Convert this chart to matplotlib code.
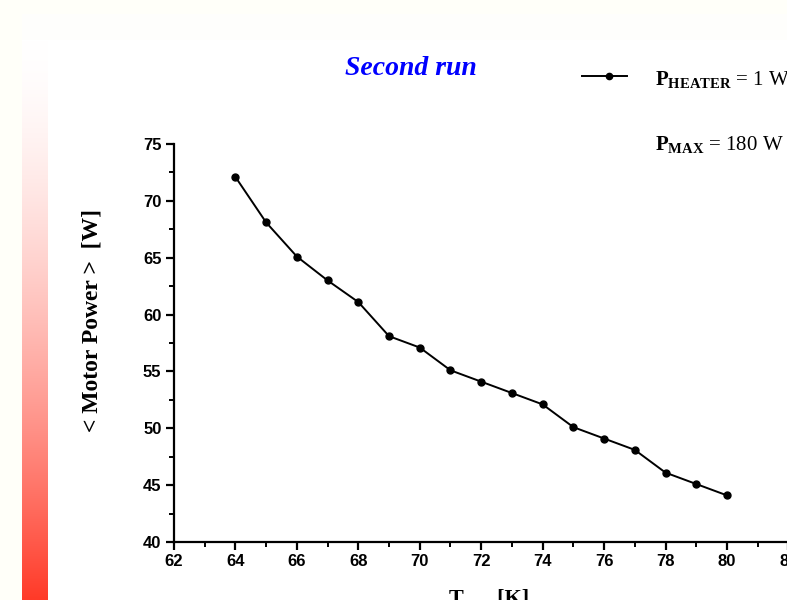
"""
Second run: mean motor power vs temperature (P_heater = 1 W, P_max = 180 W).
Writes out.png
"""

import matplotlib
matplotlib.use("Agg")
import matplotlib.pyplot as plt
from matplotlib.lines import Line2D
from matplotlib.patches import Rectangle
from matplotlib.ticker import MultipleLocator
import numpy as np

# ---------- data ----------
temp_K = [64, 65, 66, 67, 68, 69, 70, 71, 72, 73, 74, 75, 76, 77, 78, 79, 80]
motor_power_W = [72.1, 68.1, 65.1, 63.0, 61.1, 58.1, 57.1, 55.1, 54.1, 53.1,
                 52.1, 50.1, 49.1, 48.1, 46.1, 45.1, 44.1]

x_ticks = [62, 64, 66, 68, 70, 72, 74, 76, 78, 80, 82]
y_ticks = [40, 45, 50, 55, 60, 65, 70, 75]

# ---------- fonts ----------
plt.rcParams["font.family"] = "Liberation Serif"
plt.rcParams["mathtext.fontset"] = "custom"
plt.rcParams["mathtext.rm"] = "Liberation Serif"
plt.rcParams["mathtext.bf"] = "Liberation Serif:bold"
plt.rcParams["mathtext.it"] = "Liberation Serif:italic"

W, H = 787, 600
fig = plt.figure(figsize=(W / 100, H / 100), dpi=100, facecolor="#FFFFF9")

def fx(px):  # figure-fraction helpers from pixel positions
    return px / W

def fy(py):
    return 1 - py / H

# slide background panel
fig.add_artist(Rectangle((fx(22), 0), 1, fy(14), transform=fig.transFigure,
                         facecolor="#FEFEFC", edgecolor="none", zorder=0))
fig.add_artist(Rectangle((fx(48), 0), 1, fy(40), transform=fig.transFigure,
                         facecolor="white", edgecolor="none", zorder=0))

# red gradient bar on the left
bar = fig.add_axes([fx(22), 0, fx(48) - fx(22), fy(40)])
t = np.linspace(0, 1, 300) ** 1.6
grad = np.zeros((300, 1, 3))
grad[:, 0, 0] = 1.0
grad[:, 0, 1] = 1 - t * (1 - 58 / 255)
grad[:, 0, 2] = 1 - t * (1 - 40 / 255)
bar.imshow(grad, aspect="auto", interpolation="bilinear")
bar.axis("off")

# ---------- main axes ----------
ax = fig.add_axes([fx(174), fy(542), (788.4 - 174) / W, (542 - 144) / H])
ax.set_facecolor("white")
ax.plot(temp_K, motor_power_W, color="black", linewidth=1.4,
        marker="o", markersize=5, markerfacecolor="black", markeredgecolor="black",
        clip_on=False)

ax.set_xlim(62, 82)
ax.set_ylim(40, 75)
ax.set_xticks(x_ticks)
ax.set_yticks(y_ticks)
ax.xaxis.set_minor_locator(MultipleLocator(1))
ax.yaxis.set_minor_locator(MultipleLocator(2.5))
ax.spines["top"].set_visible(False)
ax.spines["right"].set_visible(False)
for s in ("left", "bottom"):
    ax.spines[s].set_linewidth(1.6)
ax.tick_params(which="major", direction="out", length=6, width=1.6, pad=3)
ax.tick_params(which="minor", direction="out", length=3.5, width=1.4)
for lab in ax.get_xticklabels() + ax.get_yticklabels():
    lab.set_fontfamily("Liberation Sans")
    lab.set_fontweight("bold")
    lab.set_fontsize(12)

# axis labels
fig.text(fx(92), fy(320), "< Motor Power >  [W]", rotation=90, ha="center",
         va="center", fontsize=17, fontweight="bold")
fig.text(fx(489), fy(589), "T      [K]", ha="center", va="top",
         fontsize=16, fontweight="bold")

# title
fig.text(fx(411), fy(75), "Second run", ha="center", va="baseline",
         fontsize=20, fontweight="bold", fontstyle="italic", color="#0000FF")

# legend-like annotations
fig.add_artist(Line2D([fx(582), fx(627)], [fy(76), fy(76)], color="black",
                      linewidth=1.4, transform=fig.transFigure))
fig.add_artist(Line2D([fx(609)], [fy(76)], color="black", marker="o",
                      markersize=4.5, transform=fig.transFigure))
fig.text(fx(655), fy(85), r"$\mathbf{P}_{\mathbf{HEATER}}$ = 1 W",
         ha="left", va="baseline", fontsize=15)
fig.text(fx(655), fy(150), r"$\mathbf{P}_{\mathbf{MAX}}$ = 180 W",
         ha="left", va="baseline", fontsize=15)

fig.savefig("out.png", dpi=100, facecolor=fig.get_facecolor())
plt.close(fig)
